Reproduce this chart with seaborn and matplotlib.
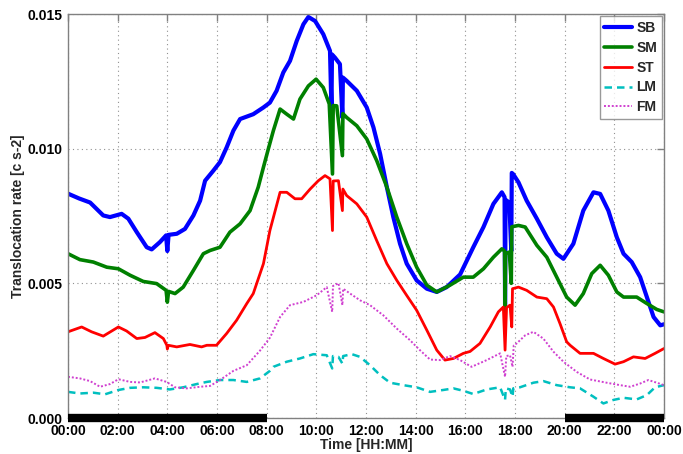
import matplotlib
matplotlib.use("Agg")
import matplotlib.pyplot as plt
import seaborn as sns
import numpy as np

# ---------------- data (hours of day, translocation rate) ----------------
sb_t = [0, 0.45, 0.89, 1.42, 1.69, 2.16, 2.43, 2.77, 3.17, 3.37, 3.7, 3.95, 4.0, 4.05, 4.38, 4.71,
        5.05, 5.32, 5.52, 5.85, 6.12, 6.39, 6.66, 6.93, 7.46, 7.87, 8.13, 8.4, 8.67, 8.94, 9.21,
        9.48, 9.68, 9.95, 10.28, 10.55, 10.61, 10.63, 10.75, 10.95, 11.05, 11.07, 11.22, 11.63,
        12.03, 12.3, 12.57, 12.84, 13.1, 13.37, 13.64, 14.04, 14.45, 14.85, 15.25, 15.79, 16.32,
        16.73, 17.13, 17.47, 17.58, 17.6, 17.62, 17.77, 17.85, 17.87, 17.93, 18.14, 18.47, 18.88,
        19.28, 19.68, 19.95, 20.35, 20.75, 21.16, 21.43, 21.76, 22.1, 22.37, 22.7, 23.04, 23.31,
        23.58, 23.85, 24]
sb_v = [0.00833, 0.00815, 0.0080, 0.00752, 0.00746, 0.00758, 0.0074, 0.0069, 0.00634, 0.00626,
        0.00653, 0.00678, 0.0062, 0.0068, 0.00684, 0.00702, 0.00752, 0.00807, 0.00881, 0.00918,
        0.0095, 0.01005, 0.01067, 0.0111, 0.01128, 0.01153, 0.01171, 0.01215, 0.01283, 0.01326,
        0.0140, 0.01462, 0.01489, 0.01474, 0.01425, 0.01363, 0.0114, 0.0135, 0.01338, 0.01314,
        0.01116, 0.01264, 0.01252, 0.01215, 0.01153, 0.01079, 0.0098, 0.00857, 0.00746, 0.00647,
        0.00573, 0.00511, 0.0048, 0.00468, 0.00486, 0.00533, 0.00634, 0.00709, 0.00795, 0.00838,
        0.0082, 0.0042, 0.0081, 0.0080, 0.0062, 0.0091, 0.00905, 0.00875, 0.00807, 0.0074,
        0.00671, 0.0061, 0.00591, 0.00647, 0.0077, 0.00838, 0.00832, 0.0077, 0.00671, 0.0061,
        0.00579, 0.00523, 0.00449, 0.00375, 0.00344, 0.00348]

sm_t = [0, 0.48, 1.02, 1.56, 2.03, 2.5, 3.03, 3.57, 3.95, 4.0, 4.05, 4.31, 4.64, 5.05, 5.45, 5.72,
        6.12, 6.52, 6.93, 7.33, 7.66, 7.87, 8.07, 8.27, 8.54, 8.81, 9.08, 9.34, 9.68, 9.99, 10.28,
        10.52, 10.65, 10.68, 10.82, 11.05, 11.07, 11.22, 11.63, 12.03, 12.43, 12.84, 13.24, 13.64,
        14.04, 14.45, 14.85, 15.38, 15.92, 16.32, 16.73, 17.13, 17.47, 17.58, 17.6, 17.62, 17.77,
        17.85, 17.87, 18.14, 18.41, 18.88, 19.28, 19.68, 20.08, 20.42, 20.75, 21.09, 21.43, 21.76,
        22.1, 22.37, 22.9, 23.31, 23.71, 24]
sm_v = [0.0061, 0.00588, 0.00579, 0.0056, 0.00554, 0.0053, 0.00507, 0.00499, 0.00474, 0.0043,
        0.0047, 0.00462, 0.00486, 0.00548, 0.0061, 0.00622, 0.00634, 0.0069, 0.00721, 0.0077,
        0.00857, 0.00931, 0.0100, 0.01067, 0.01147, 0.01128, 0.0111, 0.01184, 0.01233, 0.01258,
        0.01227, 0.01166, 0.00906, 0.0116, 0.01159, 0.00974, 0.0113, 0.01116, 0.01085, 0.01036,
        0.00956, 0.00857, 0.00746, 0.00647, 0.0056, 0.00493, 0.00468, 0.00493, 0.00523, 0.00523,
        0.00554, 0.00597, 0.00628, 0.0062, 0.00388, 0.0061, 0.00616, 0.0050, 0.0071, 0.00715,
        0.00709, 0.00641, 0.00597, 0.00523, 0.00449, 0.00419, 0.00462, 0.00536, 0.00567, 0.0053,
        0.00468, 0.00449, 0.00449, 0.00425, 0.00403, 0.00394]

st_t = [0, 0.55, 0.95, 1.42, 2.03, 2.36, 2.77, 3.1, 3.5, 3.84, 3.98, 4.0, 4.04, 4.38, 4.91, 5.38,
        5.59, 5.98, 6.39, 6.79, 7.2, 7.46, 7.87, 8.13, 8.54, 8.81, 9.14, 9.41, 9.75, 10.08, 10.35,
        10.55, 10.65, 10.68, 10.89, 11.05, 11.07, 11.22, 11.63, 12.03, 12.43, 12.84, 13.24, 13.64,
        14.04, 14.45, 14.85, 15.18, 15.52, 15.92, 16.19, 16.59, 17.0, 17.33, 17.53, 17.6, 17.66,
        17.8, 17.87, 17.9, 18.14, 18.47, 18.88, 19.28, 19.55, 19.81, 20.08, 20.22, 20.62, 21.16,
        21.56, 22.03, 22.37, 22.77, 23.24, 23.64, 24]
st_v = [0.0032, 0.00338, 0.0032, 0.00304, 0.00338, 0.00323, 0.00295, 0.00299, 0.00317, 0.00295,
        0.0027, 0.00256, 0.0027, 0.00264, 0.00273, 0.00264, 0.0027, 0.0027, 0.00314, 0.00363,
        0.00425, 0.00462, 0.00573, 0.00696, 0.00838, 0.00838, 0.00814, 0.00814, 0.0085, 0.00881,
        0.0090, 0.00888, 0.00696, 0.0088, 0.00881, 0.0077, 0.0085, 0.00826, 0.00795, 0.00746,
        0.00659, 0.00573, 0.00511, 0.00455, 0.0040, 0.00326, 0.00252, 0.00215, 0.00221, 0.0024,
        0.00247, 0.00277, 0.00338, 0.00394, 0.00412, 0.00252, 0.0041, 0.00419, 0.00338, 0.0048,
        0.00486, 0.00474, 0.00449, 0.00443, 0.00412, 0.00351, 0.00283, 0.0027, 0.0024, 0.0024,
        0.00221, 0.0020, 0.00209, 0.00227, 0.00221, 0.0024, 0.00258]

lm_t = [0, 0.48, 1.02, 1.49, 2.03, 2.5, 3.03, 3.57, 4.1, 4.64, 5.18, 5.59, 6.12, 6.66, 7.2, 7.73,
        8.13, 8.27, 8.81, 9.34, 9.88, 10.42, 10.64, 10.67, 10.89, 11.05, 11.08, 11.43, 11.76,
        12.16, 12.57, 12.97, 13.5, 14.04, 14.58, 15.11, 15.52, 15.92, 16.32, 16.86, 17.4, 17.6,
        17.63, 17.8, 17.9, 17.93, 18.2, 18.74, 19.14, 19.68, 20.22, 20.62, 21.16, 21.56, 21.96,
        22.37, 22.9, 23.31, 23.64, 24]
lm_v = [0.00097, 0.00091, 0.00094, 0.00088, 0.00104, 0.00112, 0.00114, 0.00112, 0.00106, 0.00114,
        0.00126, 0.00134, 0.00141, 0.00141, 0.00134, 0.00147, 0.00175, 0.0019, 0.00209, 0.00221,
        0.00237, 0.00233, 0.00184, 0.0023, 0.00227, 0.00202, 0.0023, 0.00237, 0.00227, 0.00196,
        0.00159, 0.00131, 0.00122, 0.00114, 0.00097, 0.00104, 0.0011, 0.00101, 0.00089, 0.00106,
        0.00114, 0.00067, 0.0011, 0.00106, 0.00079, 0.0011, 0.00114, 0.00131, 0.00137, 0.00122,
        0.00114, 0.0011, 0.00079, 0.00054, 0.00067, 0.00075, 0.00069, 0.00085, 0.00114, 0.00122]

fm_t = [0, 0.48, 0.89, 1.29, 1.69, 2.03, 2.5, 2.9, 3.5, 3.97, 4.31, 4.78, 5.32, 5.72, 6.12, 6.66,
        7.2, 7.73, 8.13, 8.54, 8.94, 9.48, 10.02, 10.42, 10.64, 10.67, 10.89, 11.05, 11.08, 11.36,
        11.76, 12.16, 12.7, 13.24, 13.77, 14.17, 14.58, 14.98, 15.38, 15.79, 16.25, 16.86, 17.4,
        17.6, 17.65, 17.8, 17.9, 17.95, 18.07, 18.41, 18.74, 19.14, 19.55, 19.95, 20.49, 21.02,
        21.69, 22.23, 22.64, 23.04, 23.37, 23.71, 24]
fm_v = [0.00153, 0.00147, 0.00137, 0.00116, 0.00126, 0.00144, 0.00134, 0.00132, 0.00147, 0.00134,
        0.00114, 0.0011, 0.00116, 0.00119, 0.00141, 0.00175, 0.00196, 0.0025, 0.00298, 0.00375,
        0.00419, 0.00431, 0.00456, 0.00486, 0.00394, 0.0049, 0.00501, 0.00419, 0.0048, 0.00462,
        0.00437, 0.00419, 0.00381, 0.00332, 0.00289, 0.00252, 0.00217, 0.00215, 0.0023, 0.00215,
        0.0019, 0.00215, 0.0024, 0.00153, 0.0023, 0.00233, 0.0019, 0.0027, 0.00277, 0.00307,
        0.0032, 0.00295, 0.00246, 0.00209, 0.00171, 0.00143, 0.00131, 0.00122, 0.00116, 0.00128,
        0.00141, 0.00131, 0.00122]

night_start = [0, 20]
night_end = [8, 24]

x_ticks = list(range(0, 25, 2))
x_tick_labels = ["00:00", "02:00", "04:00", "06:00", "08:00", "10:00", "12:00",
                 "14:00", "16:00", "18:00", "20:00", "22:00", "00:00"]
y_ticks = [0.0, 0.005, 0.010, 0.015]
y_tick_labels = ["0.000", "0.005", "0.010", "0.015"]

series = [
    ("SB", sb_t, sb_v, "#0000ff", "-", 3.0),
    ("SM", sm_t, sm_v, "#008000", "-", 2.6),
    ("ST", st_t, st_v, "#ff0000", "-", 2.0),
    ("LM", lm_t, lm_v, "#00bfbf", (0, (3, 2)), 1.8),
    ("FM", fm_t, fm_v, "#d040d0", (0, (1, 1)), 1.4),
]

# ---------------- style ----------------
sns.set_style("white")
plt.rcParams["font.family"] = ["Liberation Sans", "DejaVu Sans"]
plt.rcParams["font.weight"] = "bold"

FS = 10

fig = plt.figure(figsize=(6.83, 4.54), dpi=100)
ax = fig.add_axes([68 / 683, 1 - 418 / 454, (664 - 68) / 683, (418 - 14) / 454])

for name, t, v, c, ls, lw in series:
    sns.lineplot(x=t, y=v, ax=ax, color=c, linestyle=ls, linewidth=lw, label=name,
                 estimator=None, sort=False)

for s, e in zip(night_start, night_end):
    ax.plot([s, e], [0, 0], color="black", linewidth=6, solid_capstyle="butt",
            clip_on=False, zorder=5)

ax.set_xlim(0, 24)
ax.set_ylim(0, 0.015)
ax.set_xticks(x_ticks)
ax.set_xticklabels(x_tick_labels)
ax.set_yticks(y_ticks)
ax.set_yticklabels(y_tick_labels)

ax.grid(True, linestyle=(0, (1, 3)), color="#909090", linewidth=0.8)
for sp in ax.spines.values():
    sp.set_visible(True)
    sp.set_color("#808080")
    sp.set_linewidth(1.0)

ax.tick_params(axis="both", which="both", direction="in", length=5, width=1,
               color="#808080", top=True, right=True, labelsize=FS,
               labelcolor="black")
ax.tick_params(axis="x", pad=4)
ax.tick_params(axis="y", pad=4)
for lab in ax.get_xticklabels() + ax.get_yticklabels():
    lab.set_fontweight("bold")

ax.set_xlabel("Time [HH:MM]", fontsize=FS, fontweight="bold", labelpad=0)
ax.set_ylabel("Translocation rate [c s-2]", fontsize=FS, fontweight="bold", labelpad=2)

leg = ax.legend(loc="upper right", fontsize=FS, frameon=True, fancybox=False,
                borderaxespad=0.15, handlelength=2.0, handletextpad=0.3,
                labelspacing=0.42, borderpad=0.35)
leg.get_frame().set_edgecolor("#808080")
leg.get_frame().set_linewidth(1.0)
for txt in leg.get_texts():
    txt.set_fontweight("bold")

fig.savefig("out.png", dpi=100)
